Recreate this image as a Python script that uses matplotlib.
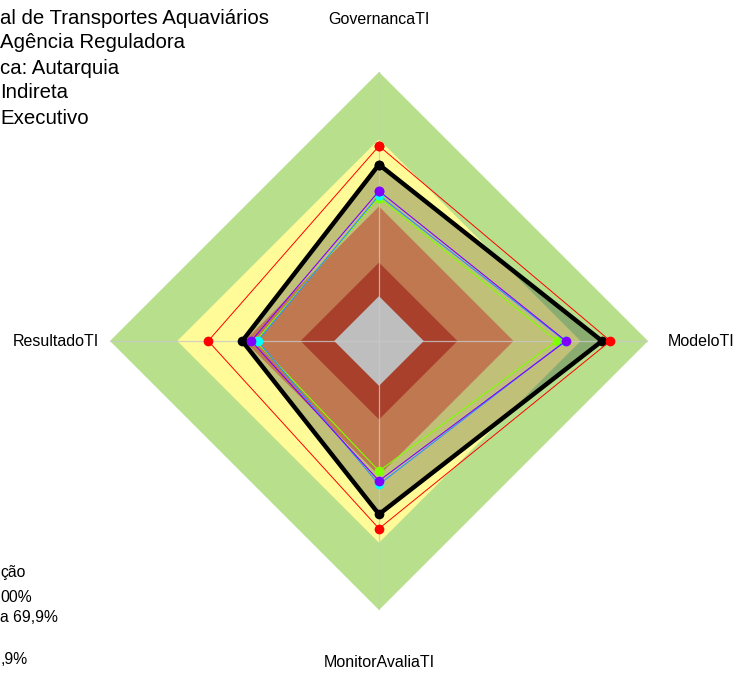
import numpy as np
import matplotlib
matplotlib.use("Agg")
import matplotlib.pyplot as plt

plt.rcParams['font.family'] = ['Liberation Sans', 'DejaVu Sans']

categories = ['GovernancaTI', 'ModeloTI', 'MonitorAvaliaTI', 'ResultadoTI']
org_max = [67.0, 83.2, 63.7, 56.2]          # red
org_value = [58.7, 79.5, 57.3, 41.0]        # black (thick, filled)
mean_purple = [46.9, 63.4, 42.4, 37.0]
mean_cyan = [45.0, 63.0, 44.0, 34.1]
mean_green = [44.0, 59.3, 38.0, 35.0]

zone_limits = [100, 70, 40, 15, 0]
zone_colors = ['#b8e08c', '#fffb98', '#c07850', '#a8402c', '#bebebe']

# visible parts of the header and legend (the reference cuts them at the left edge)
info_lines = ['al de Transportes Aquaviários',
              'Agência Reguladora',
              'ca: Autarquia',
              'Indireta',
              'Executivo']
legend_lines = ['ção',
                '00%',
                'a 69,9%',
                ',9%']

W, H = 737, 675
fig = plt.figure(figsize=(W / 100, H / 100), dpi=100)
cx, cy, R = 379, 341, 269
ax = fig.add_axes([(cx - R) / W, (H - cy - R) / H, 2 * R / W, 2 * R / H], projection='polar')
ax.set_theta_zero_location('N')
ax.set_theta_direction(-1)
ax.set_ylim(-20, 100)
ax.axis('off')

n = len(categories)
theta = np.arange(n) * 2 * np.pi / n
theta_c = np.append(theta, theta[0])

def closed(v):
    return np.append(np.asarray(v, float), v[0])

# background zones (outer two first, then filled series, then inner zones)
ax.fill(theta_c, [zone_limits[0]] * (n + 1), color=zone_colors[0], lw=0, zorder=1)
ax.fill(theta_c, [zone_limits[1]] * (n + 1), color=zone_colors[1], lw=0, zorder=1)
ax.fill(theta_c, closed(org_value), color='#041220', alpha=0.25, lw=0, zorder=2)
for lim, col in zip(zone_limits[2:], zone_colors[2:]):
    ax.fill(theta_c, [lim] * (n + 1), color=col, lw=0, zorder=3)

# axis lines
for t in theta:
    ax.plot([t, t], [-20, 100], color='#c8c8c8', lw=0.9, alpha=0.8, zorder=4)

# series
ax.plot(theta_c, closed(org_value), color='black', lw=3.2, zorder=5,
        marker='o', ms=7, markerfacecolor='black', markeredgewidth=0)
ax.plot(theta_c, closed(mean_green), color='#80ff00', lw=0.8, zorder=6,
        marker='o', ms=7, markeredgewidth=0)
ax.plot(theta_c, closed(mean_cyan), color='#3090ff', lw=0.8, zorder=7,
        marker='o', ms=7, markerfacecolor='#00ffff', markeredgewidth=0)
ax.plot(theta_c, closed(mean_purple), color='#8000ff', lw=0.8, zorder=8,
        marker='o', ms=7, markeredgewidth=0)
ax.plot(theta_c, closed(org_max), color='#ff0000', lw=0.7, zorder=9,
        marker='o', ms=7, markeredgewidth=0)

# category labels
fs = 11.5
ax.text(theta[0], 123.2, categories[0], ha='center', va='center', fontsize=fs, clip_on=False)
ax.text(theta[1], 108.8, categories[1], ha='left', va='center', fontsize=fs, clip_on=False)
ax.text(theta[2], 123.6, categories[2], ha='center', va='center', fontsize=fs, clip_on=False)
ax.text(theta[3], 104.9, categories[3], ha='right', va='center', fontsize=fs, clip_on=False)

# header info
info_y = [18, 43, 68, 93, 118]
for s, y in zip(info_lines, info_y):
    fig.text(0.5 / W, 1 - y / H, s, ha='left', va='center', fontsize=14.7)

# legend text
leg_y = [572, 598, 618, 660]
for s, y in zip(legend_lines, leg_y):
    fig.text(0.5 / W, 1 - y / H, s, ha='left', va='center', fontsize=11.3)

fig.savefig('out.png', dpi=100)
